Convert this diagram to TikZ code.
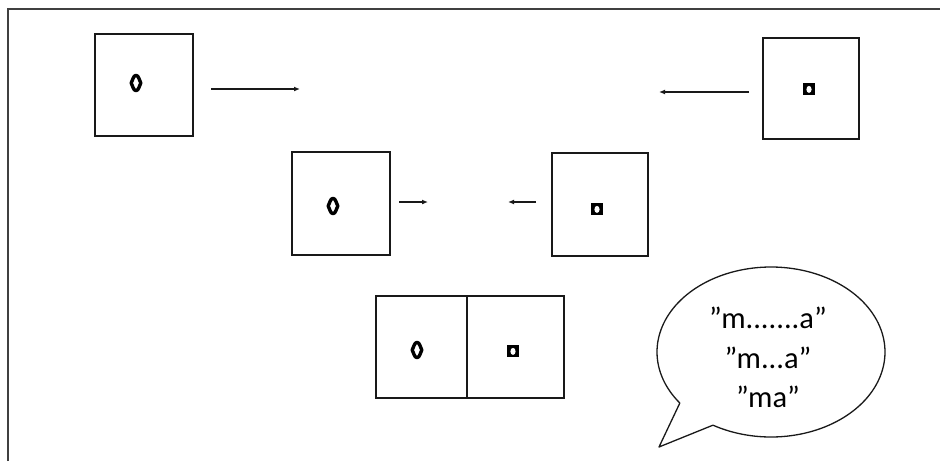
\documentclass[tikz,border=0pt]{standalone}
\usepackage{fontspec}
\setmainfont{Carlito}
\usetikzlibrary{arrows.meta}
\begin{document}
\begin{tikzpicture}[x=1pt,y=-1pt,
  frameline/.style={draw=black!75,line width=1.4pt},
  pane/.style={draw=black!90,line width=2pt,inner sep=0pt,rectangle},
  arr/.style={draw=black!90,line width=1.3pt,-{Latex[length=6pt,width=5pt]}},
  bubble/.style={draw=black!90,line width=1.3pt,line join=round},
  say/.style={inner sep=0pt,font=\fontsize{30.5}{36}\selectfont,text=black},
  lensmark/.pic={\draw[line width=3.4pt,black,line join=round]
      (0,-7.6) .. controls (2.6,-7.6) and (3.2,-3) .. (4.8,0)
      .. controls (3.2,3) and (2.6,7.6) .. (0,7.6)
      .. controls (-2.6,7.6) and (-3.2,3) .. (-4.8,0)
      .. controls (-3.2,-3) and (-2.6,-7.6) .. cycle;},
  squaremark/.pic={\fill[black] (-6.3,-6) rectangle (6.3,6.3);
                   \fill[white] (0,0.4) ellipse [x radius=2.6, y radius=3.5];}
]
\useasboundingbox (0,0) rectangle (940,461);

% outer frame: top and left edges
\coordinate (fc) at (8,9);
\draw[frameline] (8,461) -- (fc) -- (940,9);

% top row
\node[pane,minimum width=98pt,minimum height=102pt] (b1) at (144,85) {};
\node[pane,minimum width=96pt,minimum height=101pt] (b2) at (811,88.5) {};
\pic at (136,83) {lensmark};
\pic at (809,89) {squaremark};

% middle row
\node[pane,minimum width=98pt,minimum height=103pt] (b3) at (341,203.5) {};
\node[pane,minimum width=96pt,minimum height=103pt] (b4) at (600,204.5) {};
\pic at (333,206) {lensmark};
\pic at (597,209) {squaremark};

% combined pair
\node[pane,minimum width=91pt,minimum height=102pt] (c1) at (421.5,347) {};
\node[pane,minimum width=97pt,minimum height=102pt] (c2) at (515.5,347) {};
\pic at (417,350) {lensmark};
\pic at (513,351) {squaremark};

% arrows
\coordinate (a1s) at (211,89);  \coordinate (a1e) at (300,89);
\coordinate (a2s) at (749,92);  \coordinate (a2e) at (659,92);
\coordinate (a3s) at (399,202); \coordinate (a3e) at (428,202);
\coordinate (a4s) at (536,202); \coordinate (a4e) at (508,202);
\draw[arr] (a1s) -- (a1e);
\draw[arr] (a2s) -- (a2e);
\draw[arr] (a3s) -- (a3e);
\draw[arr] (a4s) -- (a4e);

% speech bubble
\coordinate (tip) at (659,447);
\draw[bubble] plot[domain=143.1:480.6,samples=150,smooth]
  ({771+114*cos(\x)},{352+85*sin(\x)}) -- (tip) -- cycle;
\node[say,anchor=base] (l1) at (768,328) {”m.......a”};
\node[say,anchor=base] (l2) at (768,368) {”m...a”};
\node[say,anchor=base] (l3) at (768,407) {”ma”};
\end{tikzpicture}
\end{document}
